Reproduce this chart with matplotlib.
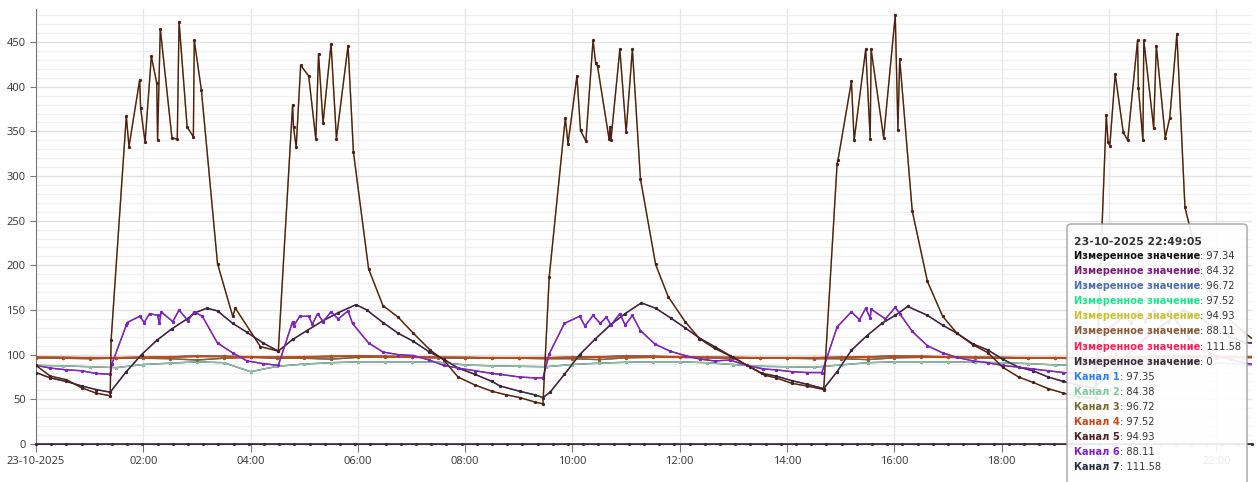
import numpy as np
import matplotlib
matplotlib.use("Agg")
import matplotlib.pyplot as plt
from matplotlib.patches import FancyBboxPatch
from matplotlib.text import Annotation
from matplotlib.transforms import IdentityTransform

# time in minutes from 00:00 of 23-10-2025

# Канал 5 - the spiky one
k5_t = [0, 16, 34, 51, 67, 83, 84, 101, 104, 116, 117, 122, 129, 135, 136, 139, 152, 158, 160, 169, 176, 177, 185, 203, 220, 223, 251, 271,
        287, 288, 291, 296, 305, 313, 316, 321, 330, 336, 349, 355, 372, 388, 405, 422, 441, 456, 472, 491, 510, 526, 541, 558, 567,
        574, 592, 595, 605, 609, 615, 623, 626, 628, 641, 642, 643, 653, 660, 667, 676, 693, 707, 726, 742, 759, 780, 799, 815, 828, 845, 862, 881,
        896, 897, 912, 915, 928, 933, 934, 948, 961, 964, 966, 980, 997, 1014, 1030, 1048, 1065, 1081, 1099, 1115, 1132, 1149, 1165, 1185,
        1197, 1199, 1201, 1207, 1216, 1221, 1232, 1233, 1238, 1239, 1250, 1253, 1263, 1268, 1276, 1285, 1301, 1318, 1334, 1351, 1368]
k5_v = [88, 76, 72, 63, 57, 54, 116, 367, 333, 408, 376, 338, 434, 404, 340, 465, 343, 341, 473, 355, 344, 452, 396, 202, 143, 152, 109, 104,
        380, 355, 332, 424, 412, 341, 437, 359, 448, 342, 446, 327, 196, 155, 142, 124, 105, 94, 75, 66, 59, 55, 52, 47, 45,
        187, 365, 336, 412, 351, 339, 452, 426, 423, 341, 355, 340, 442, 349, 442, 297, 201, 165, 137, 118, 107, 97, 86, 77, 74, 68, 65, 61,
        314, 318, 406, 340, 442, 342, 442, 343, 480, 352, 431, 261, 182, 143, 124, 111, 102, 86, 75, 69, 62, 57, 53, 51,
        368, 338, 334, 414, 349, 340, 452, 398, 340, 452, 354, 446, 343, 365, 459, 265, 200, 160, 140, 125, 112]

# Канал 7 - smooth dark curve
k7_t = [0, 16, 34, 51, 67, 83, 101, 118, 135, 152, 169, 178, 191, 203, 220, 236, 254, 271, 287, 303, 321, 338, 358, 370, 388, 405, 422,
        440, 456, 472, 491, 510, 519, 541, 558, 567, 575, 591, 608, 625, 642, 659, 677, 693, 710, 726, 743, 759, 776, 795, 812, 828,
        845, 862, 881, 896, 912, 929, 946, 961, 975, 997, 1014, 1030, 1048, 1065, 1081, 1099, 1115, 1132, 1149, 1165, 1182, 1199,
        1216, 1233, 1249, 1266, 1283, 1300, 1317, 1334, 1351, 1368]
k7_v = [80, 74, 70, 65, 61, 58, 81, 100, 116, 129, 140, 147, 152, 149, 135, 125, 113, 104, 117, 127, 138, 147, 156, 150, 136, 124, 115,
        103, 95, 85, 78, 70, 65, 59, 55, 52, 58, 78, 100, 117, 133, 146, 158, 152, 141, 130, 118, 109, 99, 88, 79, 76,
        71, 67, 62, 81, 105, 121, 135, 144, 154, 144, 133, 124, 112, 105, 95, 86, 82, 75, 70, 66, 63, 75,
        95, 112, 125, 137, 150, 143, 131, 121, 114, 112]

# Канал 6 - purple
k6_t = [0, 16, 34, 51, 67, 83, 85, 101, 102, 116, 121, 127, 136, 138, 140, 153, 160, 170, 177, 186, 203, 220, 236, 254, 271,
        287, 288, 295, 305, 309, 315, 321, 330, 338, 349, 354, 372, 388, 405, 422, 440, 456, 472, 491, 510, 519, 541, 558, 567,
        574, 591, 608, 614, 623, 631, 638, 643, 653, 659, 667, 676, 692, 709, 726, 743, 759, 776, 795, 813, 828, 845, 862, 879,
        896, 912, 921, 928, 933, 934, 950, 961, 966, 980, 997, 1014, 1030, 1048, 1065, 1081, 1099, 1115, 1132, 1149, 1165, 1182,
        1199, 1216, 1225, 1233, 1240, 1250, 1258, 1268, 1276, 1290, 1305, 1320, 1335, 1350, 1368]
k6_v = [88, 85, 83, 82, 79, 78, 90, 133, 136, 143, 136, 146, 144, 135, 148, 137, 150, 138, 148, 143, 113, 102, 93, 90, 88,
        137, 132, 143, 143, 134, 146, 137, 148, 140, 149, 135, 113, 103, 100, 99, 94, 88, 85, 82, 79, 78, 75, 74, 74,
        101, 135, 143, 132, 144, 135, 142, 133, 146, 133, 144, 127, 112, 104, 99, 95, 93, 94, 88, 84, 83, 81, 80, 80,
        131, 148, 139, 152, 141, 151, 140, 153, 146, 126, 110, 102, 97, 93, 91, 88, 86, 84, 82, 80, 79, 78,
        128, 143, 136, 148, 138, 150, 140, 149, 137, 118, 106, 99, 95, 91, 88]

# flat channels, read every 30 minutes
flat_t = list(range(0, 1381, 30))
k2_v = [88, 87.5, 86.5, 85.5, 89, 90.5, 92, 91, 81, 87, 89.5, 91, 92, 92, 92, 91.5, 88.5, 87.5, 87, 86.5, 89, 90.5, 91.5, 92,
        92, 91, 89, 87, 86.5, 86, 88.5, 91, 92, 92, 92, 91.5, 91, 90, 88.5, 88, 87, 89, 90, 91, 91, 89, 88]
k4_v = [97, 96.8, 96.5, 96.5, 97, 97.5, 98, 98, 97.5, 97, 97.5, 98, 98.5, 98, 97.5, 97, 96.8, 96.5, 96.5, 96.5, 97, 97.5, 98, 98,
        97.5, 97, 96.8, 96.5, 96.5, 96.5, 97, 97.5, 98, 98, 97.5, 97, 96.8, 96.5, 96.5, 96.5, 97, 97.5, 98, 98, 97.8, 97.6, 97.5]
k3_v = [96.5, 96, 95.5, 96, 96, 95.5, 94, 96, 97, 96, 96, 95, 97, 97.5, 97, 96.5, 96, 96, 96, 95.5, 95.5, 94.5, 96.5, 97,
        97, 96.5, 96, 96, 96, 95.5, 95.5, 94.5, 96.5, 97, 97, 96.5, 96, 96, 96, 95.5, 95.5, 95, 96.5, 97, 96.8, 96.7, 96.7]
k1_v = [97, 96.8, 96.5, 96.5, 97, 97.5, 98.5, 98, 97.5, 97, 97.5, 98, 98.5, 98, 97.5, 97, 96.8, 96.5, 96.5, 96.5, 97, 97.5, 98.5, 98,
        97.5, 97, 96.8, 96.5, 96.5, 96.5, 97, 97.5, 98.5, 98, 97.5, 97, 96.8, 96.5, 96.5, 96.5, 97, 97.5, 98, 98, 97.8, 97.5, 97.35]

zero_t = list(range(0, 1361, 17))
zero_v = [0] * len(zero_t)

tick_min = list(range(0, 1321, 120))
tick_lbl = ["23-10-2025", "02:00", "04:00", "06:00", "08:00", "10:00", "12:00",
            "14:00", "16:00", "18:00", "20:00", "22:00"]

tip_title = "23-10-2025 22:49:05"
tip_labels = ["Измеренное значение"] * 8 + ["Канал 1", "Канал 2", "Канал 3", "Канал 4", "Канал 5", "Канал 6", "Канал 7"]
tip_values = ["97.34", "84.32", "96.72", "97.52", "94.93", "88.11", "111.58", "0",
              "97.35", "84.38", "96.72", "97.52", "94.93", "88.11", "111.58"]
tip_colors = ["#111111", "#7b1a7b", "#4e6ea8", "#19e68c", "#c9c030", "#8b5a3a", "#ff1e56", "#3a2a3a",
              "#2f80ed", "#80c8a0", "#7a6a30", "#c84614", "#4e1f22", "#7d22c8", "#243040"]

plt.rcParams['font.family'] = ['Open Sans', 'DejaVu Sans']

fig = plt.figure(figsize=(12.57, 4.82), dpi=100)
ax = fig.add_axes([36 / 1257, 38 / 482, 1216 / 1257, 435 / 482])

# measured values underneath, channels on top (same data)
series = [(flat_t, k1_v), (flat_t, k2_v), (flat_t, k3_v), (flat_t, k4_v), (k5_t, k5_v), (k6_t, k6_v), (k7_t, k7_v)]
for i, (t, v) in enumerate(series):
    ax.plot(t, v, color=tip_colors[i], lw=1.0, marker="o", ms=1.3, zorder=2)
ax.plot(zero_t, zero_v, color=tip_colors[7], lw=1.2, marker="o", ms=1.3, zorder=3, clip_on=False)
order = [1, 0, 2, 3, 6, 5, 4]
for i in order:
    t, v = series[i]
    w = 1.4 if i == 3 else 1.0
    ax.plot(t, v, color=tip_colors[8 + i], lw=w, marker="o", ms=1.3, zorder=4)

ax.set_xlim(0, 1360)
ax.set_ylim(0, 487)
ax.set_xticks(tick_min)
ax.set_xticklabels(tick_lbl)
ax.set_yticks(range(0, 451, 50))
ax.set_yticks(range(0, 481, 10), minor=True)
ax.grid(axis="y", which="major", color="#e2e2e2", lw=1)
ax.grid(axis="y", which="minor", color="#f0f0f0", lw=1)
ax.grid(axis="x", which="major", color="#e6e6e6", lw=1)
ax.set_axisbelow(True)
for s in ["top", "right"]:
    ax.spines[s].set_visible(False)
ax.spines["left"].set_color("#777777")
ax.spines["bottom"].set_color("#444444")
ax.tick_params(axis="both", which="major", labelsize=8, colors="#777777", labelcolor="#333333", length=4)
ax.tick_params(axis="y", which="minor", length=0)
ax.tick_params(axis="x", length=6, pad=3)

# tooltip
ident = IdentityTransform()
box = FancyBboxPatch((1067, -10), 180, 482 - 224 + 10, boxstyle="round,pad=0,rounding_size=4",
                     transform=ident, facecolor="white", edgecolor="#9a9a9a", lw=1.0, alpha=0.9, zorder=10)
fig.add_artist(box)
fig.text(1074, 482 - 242, tip_title, transform=ident, fontsize=7.8, fontweight="bold", color="#333333",
         va="center", family="DejaVu Sans", zorder=11)
for j in range(len(tip_labels)):
    y = 482 - (256 + j * 15.1)
    t1 = fig.text(1074, y, tip_labels[j], transform=ident, fontsize=7.1, fontweight="bold",
                  color=tip_colors[j], va="center", family="DejaVu Sans", zorder=11)
    a = Annotation(": " + tip_values[j], xy=(1, 0.5), xycoords=t1, va="center", ha="left",
                   fontsize=7.1, color="#333333", family="DejaVu Sans", zorder=11)
    fig.add_artist(a)

fig.savefig("out.png", dpi=100)
